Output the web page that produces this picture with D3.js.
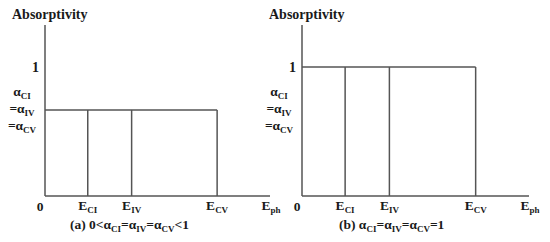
<!DOCTYPE html>
<html>
<head>
<meta charset="utf-8">
<script src="https://cdn.jsdelivr.net/npm/d3@7"></script>
<style>
  body { margin: 0; background: #fff; }
  text { font-family: "Liberation Serif", "Times New Roman", serif; font-weight: bold; fill: #1a1a1a; }
</style>
</head>
<body>
<div id="chart"></div>
<script>
// Absorptivity step diagrams, two panels
const edgeNames = ["CI", "IV", "CV"];      // subscripts of the absorption edges
const edgeEnergies = [0.19, 0.385, 0.765]; // edge positions on the photon energy axis (axis end = 1)
const panelAlpha = [0.667, 1];             // absorptivity level in panels (a) and (b)
const panelTags = ["(a)", "(b)"];
const yTicks = [1];

const width = 550, height = 242;
const svg = d3.select("#chart").append("svg")
  .attr("width", width)
  .attr("height", height);

const panels = [
  { ox: 45, x1: 270, capX: 70, caption: [["(a) 0<α", 13.5], ["CI", 9, 1], ["=α", 13.5], ["IV", 9, 1], ["=α", 13.5], ["CV", 9, 1], ["<1", 13.5]] },
  { ox: 302, x1: 529, capX: 339, caption: [["(b) α", 13.5], ["CI", 9, 1], ["=α", 13.5], ["IV", 9, 1], ["=α", 13.5], ["CV", 9, 1], ["=1", 13.5]] }
];

const y0 = 196, yTop = 25;
const y = d3.scaleLinear().domain([0, 1]).range([y0, 67]);
const lineColor = "#555";

// writes text made of main/subscript pieces
function richText(g, x, yBase, parts, anchor) {
  const t = g.append("text")
    .attr("x", x)
    .attr("y", yBase)
    .attr("text-anchor", anchor || "start");
  let sub = false;
  parts.forEach((p) => {
    const s = t.append("tspan").attr("font-size", p[1] + "px").text(p[0]);
    if (p[2] && !sub) { s.attr("dy", 3); sub = true; }
    else if (!p[2] && sub) { s.attr("dy", -3); sub = false; }
  });
  return t;
}

panels.forEach((p, i) => {
  const g = svg.append("g");
  const x = d3.scaleLinear().domain([0, 1]).range([p.ox, p.x1]);
  const level = panelAlpha[i];

  // axes
  g.append("line")
    .attr("x1", x(0)).attr("x2", x(0))
    .attr("y1", yTop).attr("y2", y(0))
    .attr("stroke", lineColor).attr("stroke-width", 1.5);
  g.append("line")
    .attr("x1", x(0)).attr("x2", x(1))
    .attr("y1", y(0)).attr("y2", y(0))
    .attr("stroke", lineColor).attr("stroke-width", 1.5);

  // absorptivity step
  g.append("line")
    .attr("x1", x(0)).attr("x2", x(edgeEnergies[2]))
    .attr("y1", y(level)).attr("y2", y(level))
    .attr("stroke", lineColor).attr("stroke-width", 1.5);
  g.selectAll(".edge")
    .data(edgeEnergies)
    .join("line")
    .attr("x1", (d) => x(d)).attr("x2", (d) => x(d))
    .attr("y1", y(level)).attr("y2", y(0))
    .attr("stroke", lineColor).attr("stroke-width", 1.5);

  // y label and ticks
  g.append("text")
    .attr("x", p.ox - 33).attr("y", 19)
    .attr("font-size", "14px")
    .text("Absorptivity");
  g.selectAll(".ytick")
    .data(yTicks)
    .join("text")
    .attr("x", p.ox - 6).attr("y", (d) => y(d) + 5)
    .attr("text-anchor", "end")
    .attr("font-size", "14px")
    .text((d) => d);

  // alpha labels
  const cx = p.ox - 23;
  richText(g, cx, 96, [["α", 13.5], ["CI", 9, 1]], "middle");
  richText(g, cx, 113, [["=α", 13.5], ["IV", 9, 1]], "middle");
  richText(g, cx, 130, [["=α", 13.5], ["CV", 9, 1]], "middle");

  // x labels
  g.append("text")
    .attr("x", x(0) - 5).attr("y", 211)
    .attr("text-anchor", "middle")
    .attr("font-size", "13.5px")
    .text("0");
  edgeEnergies.forEach((e, k) => {
    richText(g, x(e), 210, [["E", 13.5], [edgeNames[k], 9, 1]], "middle");
  });
  richText(g, x(1) + 1, 210, [["E", 13.5], ["ph", 9, 1]], "middle");

  // caption
  richText(g, p.capX, 229, p.caption, "start");
});
</script>
</body>
</html>
